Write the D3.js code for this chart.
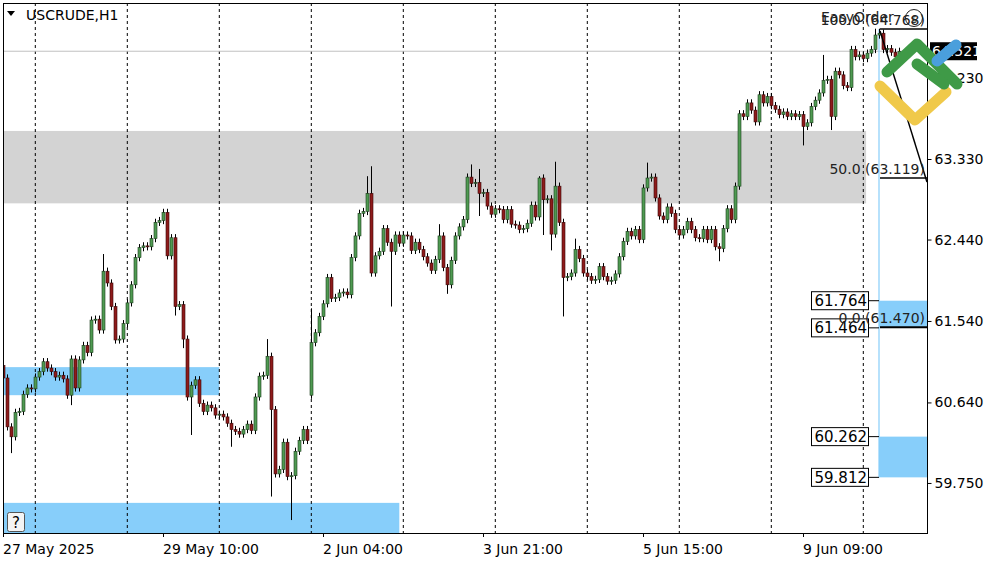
<!DOCTYPE html>
<html>
<head>
<meta charset="utf-8">
<script src="https://cdn.jsdelivr.net/npm/d3@7"></script>
<style>
  body { margin: 0; background: #fff; }
  svg { font-family: "DejaVu Sans", sans-serif; }
</style>
</head>
<body>
<div id="chart"></div>
<script>
// hourly closes, USCRUDE H1
const closes = [
  60.91,60.37,60.26,60.53,60.54,60.73,60.80,60.79,60.92,60.98,
  61.09,61.02,60.98,60.92,60.94,60.90,60.72,61.12,60.80,61.11,
  61.27,61.19,61.55,61.56,61.44,62.09,61.96,61.70,61.33,61.34,
  61.51,61.74,61.94,62.24,62.35,62.37,62.36,62.45,62.63,62.65,
  62.74,62.26,62.46,61.70,61.72,61.34,60.70,60.83,60.89,60.63,
  60.54,60.61,60.58,60.50,60.51,60.48,60.41,60.34,60.32,60.29,
  60.34,60.40,60.33,60.70,60.93,60.94,61.15,60.56,59.85,59.90,
  60.20,59.82,59.83,60.10,60.22,60.34,60.22,61.30,61.41,61.59,
  61.73,62.02,61.79,61.80,61.85,61.86,61.83,62.24,62.48,62.73,
  62.75,62.95,62.07,62.26,62.31,62.56,62.41,62.31,62.49,62.40,
  62.49,62.48,62.32,62.41,62.33,62.25,62.18,62.10,62.22,62.48,
  62.13,61.94,62.21,62.48,62.58,62.66,63.13,63.06,63.07,62.95,
  62.96,62.81,62.72,62.78,62.77,62.66,62.77,62.61,62.60,62.55,
  62.56,62.62,62.82,62.69,63.12,62.88,62.89,62.50,63.03,62.63,
  62.02,62.03,62.07,62.33,62.23,62.07,62.03,61.99,62.00,62.14,
  62.03,61.98,61.99,62.06,62.25,62.42,62.53,62.48,62.55,62.44,
  63.01,63.12,63.13,62.90,62.70,62.66,62.80,62.73,62.55,62.49,
  62.55,62.64,62.55,62.46,62.45,62.55,62.44,62.55,62.36,62.34,
  62.56,62.78,62.66,63.03,63.83,63.80,63.95,63.87,63.74,64.04,
  63.95,64.02,63.92,63.88,63.82,63.85,63.80,63.83,63.80,63.82,
  63.69,63.73,63.91,63.98,64.06,64.20,64.21,63.80,64.30,64.26,
  64.14,64.12,64.54,64.46,64.48,64.44,64.50,64.54,64.70,64.72,
  64.54,64.55,64.51,64.46,64.52
];
// opens that differ from previous close (session gaps)
const gapOpens = { 0: 61.05, 77: 60.72 };
// notable wicks: [index, high, low]
const longWicks = [
  [0,61.18,null],[2,null,60.08],[17,null,60.61],[25,62.28,null],[41,62.78,null],
  [43,null,61.60],[45,null,61.24],[47,null,60.28],[57,null,60.15],[66,61.34,null],
  [67,null,59.60],[72,null,59.34],[77,61.68,null],[91,63.14,null],[92,63.25,null],
  [97,null,61.70],[109,62.61,null],[111,null,61.84],[117,63.27,null],[119,63.22,62.70],
  [134,63.14,null],[135,null,62.49],[137,null,62.32],[138,63.30,null],[140,null,61.59],
  [143,62.45,null],[161,63.29,null],[179,null,62.20],[200,null,63.48],[205,64.48,null],
  [207,null,63.65],[218,64.77,null],[219,64.77,null]
];
const priceTicks = [64.230, 63.330, 62.440, 61.540, 60.640, 59.750];
const timeLabels = [
  [0, "27 May 2025"], [40, "29 May 10:00"], [80, "2 Jun 04:00"],
  [120, "3 Jun 21:00"], [160, "5 Jun 15:00"], [200, "9 Jun 09:00"]
];
const daySeparators = [8, 31, 54, 77, 100, 123, 146, 169, 192, 215];
// zones: [fromIndex, toIndex, priceHigh, priceLow, colour]
const zones = [
  [-1, 215.7, 63.64, 62.84, "#d3d3d3"],
  [-1, 54, 61.03, 60.72, "#87cefa"],
  [-1, 99, 59.53, 59.0, "#87cefa"]
];
const orderLevels = [[61.764, 61.464], [60.262, 59.812]];
const fibLevels = [[100.0, 64.768], [50.0, 63.119], [0.0, 61.470]];
const lastPrice = 64.521;

const W = 1000, H = 562;
const plot = { left: 3, right: 927, top: 3, bottom: 533 };
const FS = 14;

const svg = d3.select("#chart").append("svg")
  .attr("width", W).attr("height", H);

const x = d3.scaleLinear().domain([0, 224]).range([3.3, 899.3]);
const y = d3.scaleLinear().domain([59.197, 65.054]).range([plot.bottom, plot.top]);

const candles = closes.map((c, i) => {
  const o = gapOpens[i] !== undefined ? gapOpens[i] : (i > 0 ? closes[i - 1] : c);
  let hi = Math.max(o, c) + 0.04, lo = Math.min(o, c) - 0.04;
  return { i, o, c, hi, lo };
});
longWicks.forEach(([i, h, l]) => {
  if (h !== null) candles[i].hi = h;
  if (l !== null) candles[i].lo = l;
});

svg.append("defs").append("clipPath").attr("id", "clip")
  .append("rect").attr("x", plot.left).attr("y", plot.top)
  .attr("width", plot.right - plot.left).attr("height", plot.bottom - plot.top);

const g = svg.append("g").attr("clip-path", "url(#clip)");

// zones
g.selectAll(".zone").data(zones).enter().append("rect")
  .attr("x", d => d[0] < 0 ? plot.left : x(d[0]))
  .attr("width", d => x(d[1]) - (d[0] < 0 ? plot.left : x(d[0])))
  .attr("y", d => y(d[2]))
  .attr("height", d => y(d[3]) - y(d[2]))
  .attr("fill", d => d[4]);

// right-side order boxes
g.selectAll(".ord").data(orderLevels).enter().append("rect")
  .attr("x", 879).attr("width", plot.right - 879)
  .attr("y", d => y(d[0])).attr("height", d => y(d[1]) - y(d[0]))
  .attr("fill", "#87cefa");

// day separators
g.selectAll(".sep").data(daySeparators).enter().append("line")
  .attr("x1", d => x(d)).attr("x2", d => x(d))
  .attr("y1", plot.top).attr("y2", plot.bottom)
  .attr("stroke", "#000").attr("stroke-dasharray", "3,3").attr("stroke-width", 1);

// current price line
g.append("line").attr("x1", plot.left).attr("x2", plot.right)
  .attr("y1", y(lastPrice)).attr("y2", y(lastPrice))
  .attr("stroke", "#c0c0c0");

// light blue vertical
g.append("line").attr("x1", 879).attr("x2", 879)
  .attr("y1", y(64.768)).attr("y2", y(59.812))
  .attr("stroke", "#87cefa").attr("stroke-width", 1.2);

// candles
const cg = g.append("g");
cg.selectAll(".wick").data(candles).enter().append("line")
  .attr("x1", d => Math.round(x(d.i)) + 0.5).attr("x2", d => Math.round(x(d.i)) + 0.5)
  .attr("y1", d => y(d.hi)).attr("y2", d => y(d.lo))
  .attr("stroke", "#000").attr("stroke-width", 1);
cg.selectAll(".body").data(candles).enter().append("rect")
  .attr("x", d => Math.round(x(d.i)) - 1)
  .attr("width", 3)
  .attr("y", d => y(Math.max(d.o, d.c)))
  .attr("height", d => Math.max(1, Math.abs(y(d.o) - y(d.c))))
  .attr("fill", d => d.c >= d.o ? "#4f9a52" : "#8e1b1b")
  .attr("stroke", d => d.c >= d.o ? "#1d3d1d" : "#3a0808")
  .attr("stroke-width", 0.6);

// fib lines
const fibG = svg.append("g");
fibG.selectAll("line").data(fibLevels).enter().append("line")
  .attr("x1", 880).attr("x2", plot.right)
  .attr("y1", d => y(d[1])).attr("y2", d => y(d[1]))
  .attr("stroke", "#000").attr("stroke-width", d => d[0] === 0 ? 2 : 1.5);
fibG.append("line")
  .attr("x1", 880).attr("y1", y(64.768) + 2).attr("x2", plot.right).attr("y2", y(63.119) + 4)
  .attr("stroke", "#000").attr("stroke-width", 1.5);
fibG.selectAll("text").data(fibLevels.slice(0, 2)).enter().append("text")
  .attr("x", 925).attr("y", d => y(d[1]) - 4)
  .attr("text-anchor", "end").attr("font-size", FS).attr("fill", "#222")
  .text(d => d[0].toFixed(1) + " (" + d[1].toFixed(3) + ")");

// EasyOrder overlay
svg.append("text").attr("x", 821).attr("y", 22).attr("font-size", FS).attr("fill", "#222")
  .text("EasyOrder");
svg.append("circle").attr("cx", 914).attr("cy", 18).attr("r", 8.5)
  .attr("fill", "none").attr("stroke", "#222");
svg.append("text").attr("x", 914).attr("y", 22.5).attr("text-anchor", "middle")
  .attr("font-size", 11).attr("fill", "#222").text("$");

// order labels
const lab = svg.append("g");
orderLevels.flat().forEach(p => {
  const yy = y(p);
  lab.append("line").attr("x1", 868).attr("x2", 879).attr("y1", yy).attr("y2", yy).attr("stroke", "#000");
  lab.append("rect").attr("x", 811.5).attr("y", yy - 9).attr("width", 57).attr("height", 18)
    .attr("fill", "#fff").attr("stroke", "#000");
  lab.append("text").attr("x", 867).attr("y", yy + 5.5).attr("text-anchor", "end")
    .attr("font-size", 15).attr("fill", "#000").text(p.toFixed(3));
});
// the 0.0 fib text sits over the labels
svg.append("text").attr("x", 925).attr("y", y(61.470) - 4).attr("text-anchor", "end")
  .attr("font-size", FS).attr("fill", "#222").text("0.0 (61.470)");

// frame
svg.append("rect").attr("x", plot.left + 0.5).attr("y", plot.top + 0.5)
  .attr("width", plot.right - plot.left).attr("height", plot.bottom - plot.top)
  .attr("fill", "none").attr("stroke", "#000");

// price axis
const ya = svg.append("g").attr("transform", "translate(" + (plot.right + 0.5) + ",0)")
  .call(d3.axisRight(y).tickValues(priceTicks).tickFormat(d3.format(".3f")).tickSize(4).tickPadding(3));
ya.select(".domain").remove();
ya.selectAll("text").attr("font-size", FS).attr("font-family", "DejaVu Sans").attr("fill", "#000");

// last price tag
svg.append("rect").attr("x", 930).attr("y", y(lastPrice) - 9).attr("width", 47).attr("height", 18).attr("fill", "#000");
svg.append("text").attr("x", 932).attr("y", y(lastPrice) + 5).attr("font-size", FS)
  .attr("fill", "#fff").text(lastPrice.toFixed(3));

// time axis
const ta = svg.append("g");
timeLabels.forEach(([i, t]) => {
  const xx = Math.round(x(i)) + 0.5;
  ta.append("line").attr("x1", xx).attr("x2", xx).attr("y1", plot.bottom).attr("y2", plot.bottom + 4).attr("stroke", "#000");
  ta.append("text").attr("x", xx - 0.5).attr("y", plot.bottom + 21).attr("font-size", FS).attr("fill", "#000").text(t);
});

// title
svg.append("path").attr("d", "M7,11 L15,11 L11,16 Z").attr("fill", "#000");
svg.append("text").attr("x", 26).attr("y", 20).attr("font-size", FS).attr("fill", "#000").text("USCRUDE,H1");

// help box
svg.append("rect").attr("x", 7.5).attr("y", 512.5).attr("width", 17).attr("height", 19)
  .attr("fill", "#f4f4f4").attr("stroke", "#555").attr("rx", 2);
svg.append("text").attr("x", 16).attr("y", 528).attr("text-anchor", "middle").attr("font-size", 15).attr("fill", "#000").text("?");

// logo
const logo = svg.append("g").attr("fill", "none").attr("stroke-linecap", "round").attr("stroke-linejoin", "round").attr("stroke-width", 11);
logo.append("path").attr("d", "M880,86 L915,120 L946,92").attr("stroke", "#f0c94a");
logo.append("path").attr("d", "M887,72 L917,44 L957,84").attr("stroke", "#3f9a47");
logo.append("path").attr("d", "M917,64 L944,84").attr("stroke", "#3f9a47");
logo.append("path").attr("d", "M937,61 L956,45").attr("stroke", "#4a9fdc");
</script>
</body>
</html>
